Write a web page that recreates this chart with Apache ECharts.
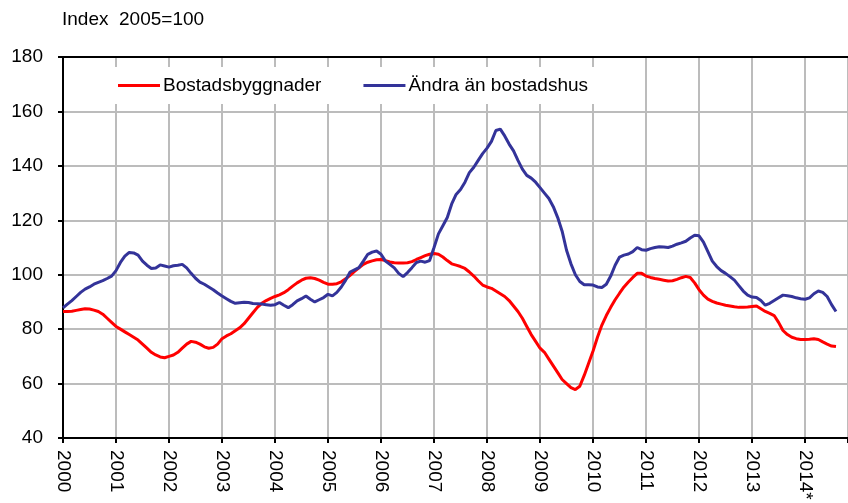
<!DOCTYPE html>
<html>
<head>
<meta charset="utf-8">
<script src="https://cdn.jsdelivr.net/npm/echarts@6/dist/echarts.min.js"></script>
<style>
  html, body { margin: 0; padding: 0; background: #fff; }
  #chart { width: 848px; height: 503px; }
</style>
</head>
<body>
<div id="chart"></div>
<script>
// monthly values, Jan 2000 .. Aug 2014
const startYear = 2000;
const seriesNames = ["Bostadsbyggnader", "Ändra än bostadshus"];
const yearLabels = ["2000", "2001", "2002", "2003", "2004", "2005", "2006", "2007",
  "2008", "2009", "2010", "2011", "2012", "2013", "2014*"];

const bostad = [
  86.5, 86.5, 86.6, 86.9, 87.2, 87.5, 87.4, 87.0, 86.5, 85.5, 84.0, 82.5,
  81.0, 80.0, 79.0, 78.0, 77.0, 76.0, 74.5, 73.0, 71.5, 70.5, 69.8, 69.5,
  70.0, 70.5, 71.5, 73.0, 74.5, 75.5, 75.2, 74.5, 73.5, 73.0, 73.3, 74.5,
  76.5, 77.5, 78.3, 79.4, 80.5, 82.0, 84.0, 86.0, 88.0, 89.5, 90.5, 91.3,
  92.0, 92.6, 93.4, 94.5, 95.8, 97.0, 98.0, 98.7, 98.9, 98.6, 98.0, 97.2,
  96.5, 96.5, 96.7, 97.4, 98.5, 99.8, 101.2, 102.5, 103.8, 104.6, 105.1, 105.5,
  105.6, 105.2, 104.7, 104.4, 104.3, 104.3, 104.4, 104.8, 105.6, 106.3, 107.0, 107.5,
  107.8, 107.5, 106.5, 105.2, 104.0, 103.5, 103.0, 102.3, 101.0, 99.5, 97.8, 96.2,
  95.5, 95.0, 94.0, 93.0, 92.0, 90.5, 88.5, 86.5, 84.0, 81.0, 78.0, 75.5,
  73.0, 71.5, 69.0, 66.5, 64.0, 61.5, 60.0, 58.5, 57.8, 59.0, 63.0, 67.5,
  72.0, 77.0, 81.5, 85.0, 88.0, 90.8, 93.2, 95.5, 97.3, 99.0, 100.5, 100.5,
  99.5, 99.0, 98.6, 98.3, 98.0, 97.7, 97.8, 98.3, 98.9, 99.4, 99.0, 97.0,
  94.5, 92.5, 91.0, 90.2, 89.6, 89.2, 88.8, 88.5, 88.2, 88.0, 88.0, 88.1,
  88.3, 88.5, 87.5, 86.5, 85.8, 85.0, 82.5, 79.5, 78.0, 77.0, 76.5, 76.2,
  76.2, 76.3, 76.5, 76.2, 75.3, 74.5, 73.8, 73.6
];

const andra = [
  87.8, 89.2, 90.5, 92.0, 93.5, 94.7, 95.5, 96.5, 97.2, 97.8, 98.6, 99.5,
  101.5, 104.5, 106.8, 108.2, 108.0, 107.2, 105.0, 103.5, 102.3, 102.5, 103.6, 103.2,
  102.8, 103.3, 103.5, 103.8, 102.5, 100.5, 98.7, 97.3, 96.5, 95.5, 94.5, 93.3,
  92.2, 91.2, 90.2, 89.5, 89.7, 89.9, 89.8, 89.4, 89.3, 89.2, 89.0, 88.8,
  89.0, 89.8, 88.8, 87.9, 89.0, 90.4, 91.2, 92.2, 91.0, 90.0, 90.8, 91.6,
  92.8, 92.2, 93.5, 95.5, 98.0, 101.0, 101.8, 102.6, 105.0, 107.5, 108.3, 108.7,
  107.5, 105.0, 103.8, 102.5, 100.5, 99.3, 100.8, 102.6, 104.5, 105.0, 104.6, 105.2,
  110.0, 115.0, 118.0, 121.0, 126.0, 129.5, 131.3, 134.0, 137.5, 139.5, 142.0, 144.5,
  146.5, 149.0, 153.0, 153.5, 151.0, 148.0, 145.5, 142.0, 138.8, 136.5, 135.5, 134.0,
  132.0, 130.0, 128.0, 125.0, 121.0, 116.0, 109.0, 104.0, 100.0, 97.5, 96.3, 96.3,
  96.2, 95.5, 95.3, 96.5, 99.5, 103.5, 106.5, 107.2, 107.6, 108.5, 110.0, 109.2,
  109.0, 109.6, 110.0, 110.3, 110.2, 110.0, 110.5, 111.2, 111.7, 112.3, 113.5, 114.5,
  114.3, 112.0, 108.5, 105.0, 103.0, 101.5, 100.5, 99.3, 98.0, 96.0, 94.0, 92.5,
  91.8, 91.6, 90.5, 88.8, 89.5, 90.5, 91.5, 92.5, 92.3, 92.0, 91.5, 91.2,
  91.0, 91.5, 93.0, 94.0, 93.5, 92.0, 89.0, 86.5
];

function toPoints(values) {
  return values.map((v, i) => [startYear + i / 12, v]);
}

const myChart = echarts.init(document.getElementById("chart"));

const fontName = "Liberation Sans, Arial, sans-serif";
const axisFont = { fontFamily: fontName, fontSize: 19, color: "#000" };

const option = {
  animation: false,
  backgroundColor: "#fff",
  title: {
    text: "Index  2005=100",
    left: 62,
    top: 10,
    padding: 0,
    textStyle: { fontFamily: fontName, fontSize: 19, fontWeight: "normal", color: "#000" }
  },
  legend: {
    left: 106,
    top: 67,
    padding: [9, 15, 9, 12],
    backgroundColor: "#fff",
    icon: "rect",
    itemWidth: 42,
    itemHeight: 3,
    itemGap: 42,
    textStyle: { fontFamily: fontName, fontSize: 19, color: "#000", padding: [0, 0, 0, -2] },
    data: seriesNames
  },
  grid: { left: 63, right: 0, top: 57, bottom: 65 },
  xAxis: [
    {
      type: "value",
      min: 2000,
      max: 2014.81,
      interval: 1,
      axisLine: { lineStyle: { color: "#000", width: 2 } },
      axisTick: { show: true, inside: false, length: 5, lineStyle: { color: "#000", width: 2 } },
      axisLabel: {
        ...axisFont,
        rotate: -90,
        margin: 12,
        formatter: v => {
          const i = Math.round(v - startYear);
          return Math.abs(v - startYear - i) < 1e-6 ? yearLabels[i] || "" : "";
        }
      },
      splitLine: { show: true, lineStyle: { color: "#bcbcbc", width: 2 } }
    },
    {
      type: "value",
      position: "top",
      min: 2000,
      max: 2014.81,
      axisLine: { show: true, lineStyle: { color: "#000", width: 2 } },
      axisTick: { show: false },
      axisLabel: { show: false },
      splitLine: { show: false }
    }
  ],
  yAxis: {
    type: "value",
    min: 40,
    max: 180,
    interval: 20,
    axisLine: { show: true, lineStyle: { color: "#000", width: 2 } },
    axisTick: { show: true, length: 5, lineStyle: { color: "#000", width: 2 } },
    axisLabel: { ...axisFont, margin: 20 },
    splitLine: { show: true, lineStyle: { color: "#bcbcbc", width: 2 } }
  },
  series: [
    {
      name: seriesNames[0],
      type: "line",
      xAxisIndex: 0,
      showSymbol: false,
      symbol: "none",
      data: toPoints(bostad),
      lineStyle: { color: "#ff0000", width: 3 },
      itemStyle: { color: "#ff0000" }
    },
    {
      name: seriesNames[1],
      type: "line",
      xAxisIndex: 0,
      showSymbol: false,
      symbol: "none",
      data: toPoints(andra),
      lineStyle: { color: "#333399", width: 3 },
      itemStyle: { color: "#333399" }
    }
  ]
};

myChart.setOption(option);
</script>
</body>
</html>
